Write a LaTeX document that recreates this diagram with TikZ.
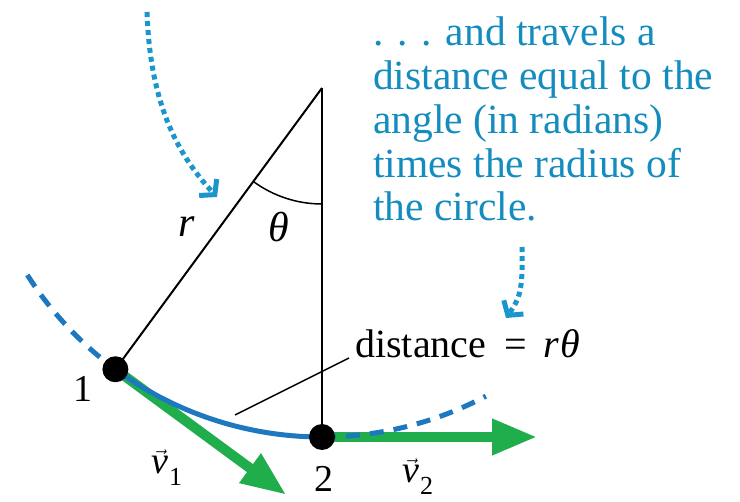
\documentclass[tikz,border=0pt]{standalone}
\usepackage{fontspec}
\setmainfont{Liberation Serif}
\usetikzlibrary{arrows.meta,calc}
\definecolor{arcblue}{RGB}{30,120,192}
\definecolor{txtblue}{RGB}{20,140,190}
\definecolor{dotblue}{RGB}{26,150,204}
\definecolor{vgreen}{RGB}{31,174,75}
\newcommand\vlab[1]{$\vec{\hbox{\itshape v}}$\kern1pt\raisebox{-12pt}{\fontsize{26}{26}\selectfont #1}}
\tikzset{
  arcline/.style={draw=arcblue,line width=5pt},
  arcdash/.style={arcline,dash pattern=on 14pt off 10pt},
  radline/.style={draw=black,line width=2pt},
  vecarrow/.style={draw=vgreen,line width=10pt,-{Triangle[length=45pt,width=34pt]}},
  dotarrow/.style={draw=dotblue,line width=5pt,dash pattern=on 5pt off 4pt,
     -{Straight Barb[length=10pt,width=24pt,line width=5pt]}},
  dotnode/.style={circle,fill=black,inner sep=0pt,minimum size=26pt},
  lab/.style={inner sep=0pt,font=\fontsize{38}{38}\selectfont},
  mlab/.style={inner sep=0pt,font=\fontsize{42}{42}\selectfont\itshape},
}
\begin{document}
\begin{tikzpicture}[x=1pt,y=-1pt]
\useasboundingbox (0,0) rectangle (740,502);
\coordinate (C) at (322,88);
\path (C) ++(126.3:349) coordinate (P1);
\path (C) ++(90:349) coordinate (P2);
\path (C) ++(147.6:349) coordinate (A0);
\path (C) ++(126.3:116) coordinate (T0);
\path (P1) ++(36.3:212) coordinate (v1tip);
\path (P2) ++(0:215) coordinate (v2tip);
% green velocity vectors
\draw[vecarrow] (P1) -- (v1tip);
\draw[vecarrow] (P2) -- (v2tip);
% circle arc
\draw[arcdash] (A0) arc[start angle=147.6,end angle=126.3,radius=349];
\draw[arcline] (P1) arc[start angle=126.3,end angle=90,radius=349];
\draw[arcdash] (P2) arc[start angle=90,end angle=62,radius=349];
% radii and angle
\draw[radline] (C) -- (P1);
\draw[radline] (C) -- (P2);
\draw[black,line width=1.5pt] (T0) arc[start angle=126.3,end angle=90,radius=116];
% points
\node[dotnode] (p1) at (P1) {};
\node[dotnode] (p2) at (P2) {};
% labels
\node[mlab,anchor=base] (rl) at (187,237) {r};
\node[mlab,anchor=base] (th) at (279,242) {θ};
\node[lab,anchor=base] (n1) at (83,402) {1};
\node[lab,anchor=base] (n2) at (324,492) {2};
\node[lab,anchor=base west] (v1) at (151,474) {\vlab{1}};
\node[lab,anchor=base west] (v2) at (402,483) {\vlab{2}};
% distance label with leader
\node[inner ysep=0pt,inner xsep=6pt,anchor=base west,font=\fontsize{40}{40}\selectfont] (dist) at (349,358)
  {distance\hspace{18pt}=\hspace{17pt}\textit{r\kern1ptθ}};
\coordinate (lead) at (235,415);
\draw[black,line width=1.5pt] (lead) -- (dist.base west);
% blue annotation
\node[anchor=north west,inner sep=0pt,align=left,text=txtblue,
  font=\fontsize{41.5}{43.75}\selectfont] (note) at (373,17)
  {. . . and travels a\\distance equal to the\\angle (in radians)\\times the radius of\\the circle.};
% dotted pointer arrows
\coordinate (d1s) at (147,12);
\coordinate (d1e) at (217,197);
\draw[dotarrow] (d1s) .. controls (150,100) and (175,152) .. (d1e);
\coordinate (d2s) at (522,247);
\coordinate (d2e) at (506,318);
\draw[dotarrow] (d2s) .. controls (523,290) and (520,298) .. (d2e);
\end{tikzpicture}
\end{document}
